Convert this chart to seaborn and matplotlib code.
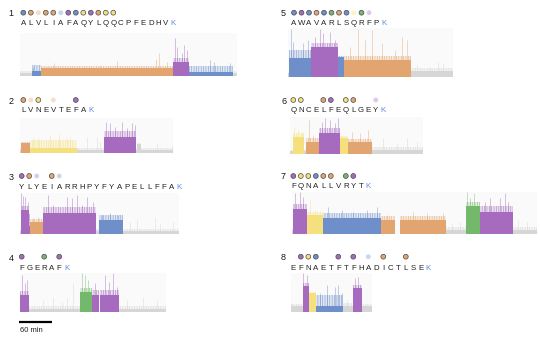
import numpy as np
import pandas as pd
import matplotlib
matplotlib.use("Agg")
import matplotlib.pyplot as plt
import seaborn as sns

sns.set_style("white")
plt.rcParams["font.family"] = ["Liberation Sans", "DejaVu Sans"]
plt.rcParams["hatch.linewidth"] = 0.45

FIG_W, FIG_H = 540, 339
MIN_PER_PX = 60 / 33          # 60-min scale bar is 33 px long
LETTER_STEP = 7.5

COLORS = {
    "blue": "#6e8fca", "purple": "#a66bbe", "orange": "#e3a56f", "yellow": "#f6e07e",
    "green": "#74b86c", "gray": "#d6d6d6", "lightblue": "#c8d6ef",
    "lightpurple": "#dec9ec", "peach": "#f7ddc8", "lightyellow": "#fcf2c4",
}
SATURATED = {"blue", "purple", "orange", "yellow", "green"}

# ---------------- data ----------------
SEQ1 = "ALVLIAFAQYLQQCPFEDHVK"
DOT_IDX1 = [0, 1, 2, 3, 4, 5, 6, 7, 8, 9, 10, 11, 12]
DOT_KIND1 = ["blue", "orange", "peach", "orange", "orange", "lightblue", "purple",
             "blue", "yellow", "purple", "orange", "yellow", "yellow"]
SEG_EDGES1 = [0, 21, 39, 279, 308, 388, 394]
SEG_KIND1 = ["gray", "blue", "orange", "purple", "blue", "gray"]
SEG_LEVEL1 = [3.5, 5, 7.7, 14.3, 4.5, 3.5]
SEG_FRINGE1 = [5, 11, 10.5, 18, 10, 5]
SPIKE_T1 = [24, 61, 145, 176, 248, 253, 267, 282, 285, 294, 299, 303, 345, 352, 382]
SPIKE_H1 = [9.3, 12.7, 11, 15, 16.7, 22.7, 14.3, 37.7, 29.3, 22.7, 31, 26, 16, 14.3, 12.7]

SEQ2 = "LVNEVTEFAK"
DOT_IDX2 = [0, 1, 2, 4, 7]
DOT_KIND2 = ["orange", "peach", "yellow", "peach", "purple"]
SEG_EDGES2 = [0, 1.8, 18.2, 104.2, 152.7, 210.9, 213.3, 220.6, 278.8]
SEG_KIND2 = ["gray", "orange", "yellow", "gray", "purple", "gray", "gray", "gray"]
SEG_LEVEL2 = [3, 10.7, 5, 3, 16.7, 3, 9, 3]
SEG_FRINGE2 = [4, 11.5, 13, 5, 22, 4, 10, 5]
SPIKE_T2 = [24.2, 33.3, 54.5, 71.5, 84.8, 90.9, 122.4, 139.4, 145.4, 156.4, 163.6,
            172.7, 184.8, 193.9, 203, 209, 248.5, 275.7]
SPIKE_H2 = [16.7, 15, 18.3, 20, 15, 16.7, 16.7, 16.7, 11.7, 31.7, 30, 26.7, 31.7,
            25, 30, 28.3, 10, 8.3]

SEQ3 = "YLYEIARRHPYFYAPELLFFAK"
DOT_IDX3 = [0, 1, 2, 4, 5]
DOT_KIND3 = ["purple", "orange", "lightpurple", "orange", "lightblue"]
SEG_EDGES3 = [0, 1.8, 16.4, 18.2, 42.4, 138.2, 144.2, 186.6, 289]
SEG_KIND3 = ["gray", "purple", "purple", "orange", "purple", "gray", "blue", "gray"]
SEG_LEVEL3 = [3.5, 24, 8, 12.3, 21.5, 3.5, 14, 3.5]
SEG_FRINGE3 = [4, 28, 20, 15, 27, 5, 19, 5]
SPIKE_T3 = [2.4, 6.1, 9.1, 13.9, 24.2, 33.3, 51.5, 60.6, 84.8, 93.9, 103, 112, 121.2,
            133.3, 148.5, 163.6, 178.8, 200, 212, 245.4, 254.5, 278.8]
SPIKE_H3 = [40.7, 38, 37.3, 32.3, 15.7, 17.3, 39, 29, 37.3, 35.7, 39, 29, 37.3, 32.3,
            19, 20.7, 19, 12.3, 14, 17.3, 10.7, 12.3]

SEQ4 = "FGERAFK"
DOT_IDX4 = [0, 3, 5]
DOT_KIND4 = ["purple", "green", "purple"]
SEG_EDGES4 = [0, 16.4, 109.1, 130.3, 143, 145.4, 180.6, 265.4]
SEG_KIND4 = ["purple", "gray", "green", "purple", "gray", "purple", "gray"]
SEG_LEVEL4 = [17.3, 3.5, 20.7, 17.3, 0, 17.3, 3.5]
SEG_FRINGE4 = [21, 6, 24, 22, 0, 22, 6]
SPIKE_T4 = [3, 9.1, 13.3, 42.4, 60.6, 75.8, 84.8, 97, 112.1, 118.2, 124.2, 136.4,
            154.5, 162.4, 169.7, 175.8, 193.9, 224.2, 248.5]
SPIKE_H4 = [37.3, 29, 32.3, 12.3, 15.7, 10.7, 14, 29, 39, 37.3, 32.3, 29, 37.3,
            30.7, 39, 25.7, 12.3, 15.7, 12.3]

SEQ5 = "AWAVARLSQRFPK"
DOT_IDX5 = [0, 1, 2, 3, 4, 5, 6, 7, 8, 9, 10]
DOT_KIND5 = ["blue", "purple", "blue", "orange", "blue", "green", "orange", "blue",
             "lightyellow", "green", "lightpurple"]
SEG_EDGES5 = [0, 1.8, 40.6, 90.9, 101.2, 223, 298.8]
SEG_KIND5 = ["gray", "blue", "purple", "blue", "orange", "gray"]
SEG_LEVEL5 = [4, 19, 30, 19.3, 16.7, 6]
SEG_FRINGE5 = [5, 27, 34, 21, 21, 8.5]
SPIKE_T5 = [4.2, 9.1, 27.3, 36.4, 48.5, 57.6, 63.6, 75.8, 84.8, 112.1, 127.3, 139.4,
            151.5, 169.7, 193.9, 206, 215.2, 233.3, 257.6, 272.7, 281.8]
SPIKE_H5 = [48, 35, 33.3, 36.7, 40, 48, 43.3, 45, 36.7, 30, 48, 36.7, 46.7, 33.3,
            26.7, 40, 36.7, 11.7, 10, 15, 13.3]

SEQ6 = "QNCELFEQLGEYK"
DOT_IDX6 = [0, 1, 4, 5, 7, 8, 11]
DOT_KIND6 = ["yellow", "yellow", "orange", "purple", "yellow", "orange", "lightpurple"]
SEG_EDGES6 = [0, 4.8, 26.1, 29.1, 53.3, 90.9, 106, 148.5, 241.2]
SEG_KIND6 = ["gray", "yellow", "gray", "orange", "purple", "yellow", "orange", "gray"]
SEG_LEVEL6 = [3.5, 17.3, 3.5, 12.3, 20.7, 15.7, 11.7, 4]
SEG_FRINGE6 = [4, 21, 5, 16, 26, 18, 15, 7]
SPIKE_T6 = [7.3, 15.2, 21.2, 35.2, 42.4, 57.6, 63.6, 72.7, 81.8, 87.9, 93.9, 112.1,
            127.3, 142.4, 169.7, 193.9, 212.1, 230.3]
SPIKE_H6 = [27.3, 24, 22.3, 34, 19, 32.3, 35.7, 34, 30.7, 35.7, 19, 22.3, 20.7, 24,
            15.7, 10.7, 15.7, 12.3]

SEQ7 = "FQNALLVRYTK"
DOT_IDX7 = [0, 1, 2, 3, 4, 5, 7, 8]
DOT_KIND7 = ["purple", "yellow", "yellow", "blue", "orange", "orange", "green", "purple"]
SEG_EDGES7 = [0, 3, 27.3, 56.4, 162.4, 187.9, 197, 280.6, 317, 342.4, 401.8, 445.4]
SEG_KIND7 = ["gray", "purple", "yellow", "blue", "orange", "gray", "orange", "gray",
             "green", "purple", "gray"]
SEG_LEVEL7 = [4, 25.3, 19.3, 16, 14.3, 0, 14.3, 4.3, 28.7, 22.7, 4.3]
SEG_FRINGE7 = [5, 30, 22, 21, 18, 0, 18, 7, 32, 28, 7]
SPIKE_T7 = [6.1, 15.2, 21.2, 33.3, 42.4, 66.7, 90.9, 112.1, 136.4, 154.5, 172.7,
            221.2, 245.4, 275.8, 290.9, 306, 318.2, 324.2, 331.5, 351.5, 360.6,
            378.8, 387.9, 393.9, 412.1, 427.3]
SPIKE_H7 = [41, 42.6, 37.7, 34.3, 24.3, 27.7, 24.3, 22.7, 24.3, 27.7, 19.3, 22.7,
            21, 21, 11, 12.7, 42.6, 36, 41, 32.7, 36, 36, 41, 32.7, 14.3, 12.7]

SEQ8 = "EFNAETFTFHADICTLSEK"
DOT_IDX8 = [1, 2, 3, 6, 8, 10, 12, 15]
DOT_KIND8 = ["purple", "yellow", "blue", "purple", "purple", "lightblue", "orange", "orange"]
SEG_EDGES8 = [0, 21.8, 33.9, 46.1, 94.5, 112.7, 129.1, 147.3]
SEG_KIND8 = ["gray", "purple", "yellow", "blue", "gray", "purple", "gray"]
SEG_LEVEL8 = [6.3, 26.3, 19, 6, 6, 24, 6]
SEG_FRINGE8 = [8, 29, 20, 17, 9, 27, 8]
SPIKE_T8 = [1.8, 17, 23, 29.1, 53.3, 65.5, 80.6, 86.7, 92.7, 101.8, 117, 123, 138.2]
SPIKE_H8 = [9, 7.3, 39, 37.3, 19, 27.3, 25.7, 27.3, 19, 12.3, 34, 35.7, 7.3]

PANELS = {
    "1": (SEQ1, DOT_IDX1, DOT_KIND1, SEG_EDGES1, SEG_KIND1, SEG_LEVEL1, SEG_FRINGE1, SPIKE_T1, SPIKE_H1),
    "2": (SEQ2, DOT_IDX2, DOT_KIND2, SEG_EDGES2, SEG_KIND2, SEG_LEVEL2, SEG_FRINGE2, SPIKE_T2, SPIKE_H2),
    "3": (SEQ3, DOT_IDX3, DOT_KIND3, SEG_EDGES3, SEG_KIND3, SEG_LEVEL3, SEG_FRINGE3, SPIKE_T3, SPIKE_H3),
    "4": (SEQ4, DOT_IDX4, DOT_KIND4, SEG_EDGES4, SEG_KIND4, SEG_LEVEL4, SEG_FRINGE4, SPIKE_T4, SPIKE_H4),
    "5": (SEQ5, DOT_IDX5, DOT_KIND5, SEG_EDGES5, SEG_KIND5, SEG_LEVEL5, SEG_FRINGE5, SPIKE_T5, SPIKE_H5),
    "6": (SEQ6, DOT_IDX6, DOT_KIND6, SEG_EDGES6, SEG_KIND6, SEG_LEVEL6, SEG_FRINGE6, SPIKE_T6, SPIKE_H6),
    "7": (SEQ7, DOT_IDX7, DOT_KIND7, SEG_EDGES7, SEG_KIND7, SEG_LEVEL7, SEG_FRINGE7, SPIKE_T7, SPIKE_H7),
    "8": (SEQ8, DOT_IDX8, DOT_KIND8, SEG_EDGES8, SEG_KIND8, SEG_LEVEL8, SEG_FRINGE8, SPIKE_T8, SPIKE_H8),
}

# ---------------- layout (pixels) ----------------
LAYOUT = {
    "1": dict(left=20, bottom=76, height=43, num=(8.5, 14), dot_y=12.7, seq_y=23.3, seq_x=23.3),
    "2": dict(left=20, bottom=153.3, height=35, num=(8.5, 101), dot_y=100, seq_y=111, seq_x=23.3),
    "3": dict(left=20, bottom=234, height=41, num=(8.5, 177.8), dot_y=176, seq_y=187.3, seq_x=21.7),
    "4": dict(left=20, bottom=312.3, height=39, num=(8.5, 258.3), dot_y=256.7, seq_y=268.3, seq_x=21.7),
    "5": dict(left=288.3, bottom=76.7, height=48.4, num=(281, 13.8), dot_y=12.7, seq_y=23.3, seq_x=294),
    "6": dict(left=290, bottom=154, height=37.3, num=(281, 101), dot_y=100, seq_y=111, seq_x=293.3),
    "7": dict(left=291.7, bottom=234.3, height=42.6, num=(281, 176.7), dot_y=176, seq_y=186.7, seq_x=293.3),
    "8": dict(left=290.7, bottom=312.3, height=39, num=(281, 258), dot_y=256.7, seq_y=268.3, seq_x=293.3),
}

fig = plt.figure(figsize=(FIG_W / 100, FIG_H / 100), dpi=100)
over = fig.add_axes([0, 0, 1, 1])
over.set_xlim(0, FIG_W)
over.set_ylim(FIG_H, 0)
over.axis("off")

dot_rows = []
for name, (seq, didx, dkind, edges, kinds, levels, fringe, sp_t, sp_h) in PANELS.items():
    lay = LAYOUT[name]
    edges_arr = np.asarray(edges, dtype=float)
    bins = [float(e) for e in edges]
    dur = edges_arr[-1]
    w_px = dur / MIN_PER_PX
    ax = fig.add_axes([lay["left"] / FIG_W, 1 - lay["bottom"] / FIG_H,
                       w_px / FIG_W, lay["height"] / FIG_H])
    ax.set_facecolor("#fafafa")
    seg = pd.DataFrame({"mid": (edges_arr[:-1] + edges_arr[1:]) / 2, "kind": kinds,
                        "level": levels, "fringe": fringe})
    order = [k for k in COLORS if k in set(kinds)]
    seg_cols = [COLORS[k] for k in kinds]
    widths = np.diff(edges_arr)
    lv = np.asarray(levels, dtype=float)
    fr = np.asarray(fringe, dtype=float)
    # dense-spike envelope: faint wash + fine vertical hatching
    ax.bar(edges_arr[:-1], fr - lv, width=widths, bottom=lv, align="edge",
           color=seg_cols, alpha=0.18, linewidth=0)
    ax.bar(edges_arr[:-1], fr - lv + 1.5, width=widths, bottom=lv - 1.5, align="edge",
           facecolor="none", edgecolor=seg_cols, hatch="|||||||", linewidth=0,
           alpha=0.75)
    # tall individual spikes
    sp_t = np.asarray(sp_t, dtype=float)
    sidx = np.clip(np.searchsorted(edges_arr, sp_t, side="right") - 1, 0, len(kinds) - 1)
    ax.vlines(sp_t, 0, sp_h, colors=[COLORS[kinds[i]] for i in sidx],
              linewidth=0.6, alpha=0.5)
    # blockade levels
    sns.histplot(data=seg, x="mid", weights="level", bins=bins, hue="kind",
                 hue_order=order, palette=COLORS, multiple="layer", alpha=1,
                 linewidth=0, legend=False, ax=ax)
    ax.set_xlim(0, dur)
    ax.set_ylim(0, lay["height"])
    ax.set_xticks([])
    ax.set_yticks([])
    ax.set_xlabel("")
    ax.set_ylabel("")
    for s in ax.spines.values():
        s.set_visible(False)

    # panel number and sequence
    over.text(lay["num"][0], lay["num"][1], name, ha="left", va="center",
              fontsize=6.5, color="#1a1a1a")
    for i, ch in enumerate(seq):
        over.text(lay["seq_x"] + i * LETTER_STEP, lay["seq_y"], ch, ha="center",
                  va="center", fontsize=5.7,
                  color="#5b8be3" if i == len(seq) - 1 else "#222222")
    for i, k in zip(didx, dkind):
        dot_rows.append({"x": lay["seq_x"] + i * LETTER_STEP, "y": lay["dot_y"], "kind": k})

dots = pd.DataFrame(dot_rows)
sat = dots[dots["kind"].isin(SATURATED)]
light = dots[~dots["kind"].isin(SATURATED)]
sns.scatterplot(data=sat, x="x", y="y", hue="kind", palette=COLORS, s=12,
                edgecolor="#4a4a4a", linewidth=0.5, legend=False, ax=over)
sns.scatterplot(data=light, x="x", y="y", hue="kind", palette=COLORS, s=12,
                edgecolor="none", linewidth=0, legend=False, ax=over)
over.set_xlim(0, FIG_W)
over.set_ylim(FIG_H, 0)
over.axis("off")

# scale bar
bar_len = 60 / MIN_PER_PX
over.plot([19.3, 19.3 + bar_len], [322.3, 322.3], color="black", lw=1.6,
          solid_capstyle="butt")
over.text(20, 330.5, "60 min", ha="left", va="center", fontsize=5.5, color="#222222")

fig.savefig("out.png", dpi=100)
